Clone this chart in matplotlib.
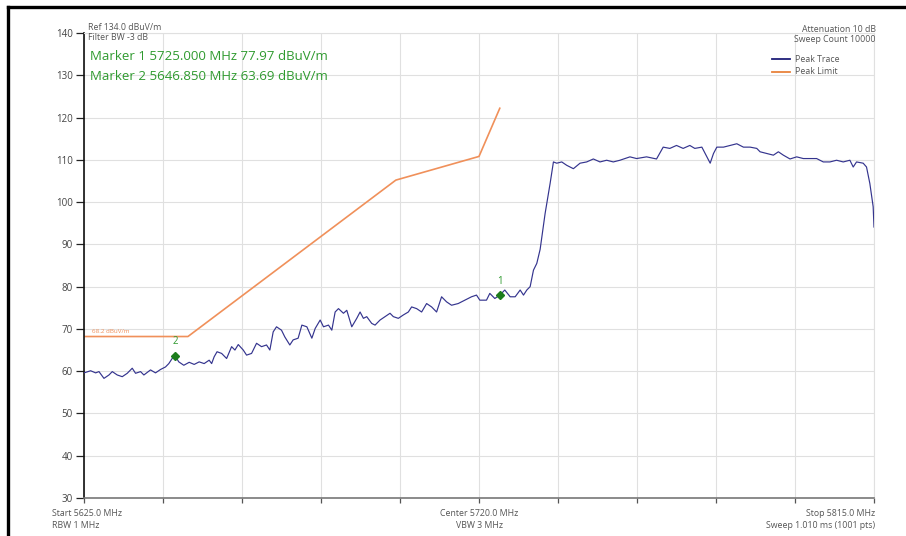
import matplotlib
matplotlib.use("Agg")
import matplotlib.pyplot as plt
from matplotlib.lines import Line2D

plt.rcParams['font.family'] = ['Open Sans', 'DejaVu Sans']

# ---- data ----
freq_mhz = [5625.0, 5626.6, 5627.8, 5628.6, 5629.8, 5631.0, 5631.8, 5633.0, 5634.2, 5635.4,
            5636.6, 5637.4, 5638.6, 5639.4, 5641.0, 5642.2, 5643.4, 5644.6, 5645.4, 5646.2,
            5646.85, 5647.8, 5649.0, 5650.3, 5651.5, 5652.7, 5653.9, 5655.1, 5655.7, 5656.3,
            5657.0, 5658.1, 5659.3, 5660.5, 5661.3, 5662.1, 5663.3, 5664.1, 5665.3, 5666.5,
            5667.7, 5668.9, 5669.7, 5670.5, 5671.3, 5672.5, 5673.3, 5674.5, 5675.3, 5676.5,
            5677.4, 5678.6, 5679.8, 5680.6, 5681.8, 5682.6, 5683.8, 5684.6, 5685.4, 5686.2,
            5687.4, 5688.2, 5689.4, 5690.6, 5691.4, 5692.2, 5693.0, 5694.2, 5695.0, 5696.2,
            5697.4, 5698.6, 5699.4, 5700.6, 5701.8, 5703.0, 5703.8, 5705.0, 5706.2, 5707.4,
            5708.6, 5709.8, 5711.0, 5712.2, 5713.4, 5715.0, 5716.6, 5718.2, 5719.4, 5720.2,
            5721.8, 5722.6, 5723.8, 5725.0, 5726.2, 5727.5, 5728.7, 5729.9, 5730.7, 5731.5,
            5732.3, 5733.1, 5733.9, 5734.7, 5735.9, 5737.1, 5737.9, 5738.7, 5739.9, 5741.1,
            5742.7, 5744.3, 5745.9, 5747.5, 5749.1, 5750.7, 5752.3, 5753.9, 5756.3, 5757.9,
            5760.3, 5762.7, 5764.3, 5765.9, 5767.5, 5769.1, 5770.7, 5771.9, 5773.6, 5774.8,
            5775.6, 5776.4, 5777.2, 5778.8, 5780.4, 5782.0, 5783.6, 5785.2, 5786.8, 5787.6,
            5789.2, 5790.8, 5792.0, 5793.2, 5794.8, 5796.4, 5798.0, 5799.6, 5801.2, 5802.8,
            5804.4, 5806.0, 5807.6, 5809.2, 5810.0, 5810.8, 5812.4, 5813.2, 5814.0, 5814.8,
            5815.0]
level_dbuv = [59.6, 60.1, 59.6, 59.9, 58.3, 59.1, 59.9, 59.1, 58.7, 59.5,
              60.7, 59.5, 59.9, 59.1, 60.3, 59.6, 60.4, 61.0, 61.8, 63.0,
              63.69, 62.2, 61.4, 62.1, 61.6, 62.2, 61.8, 62.6, 61.8, 63.4,
              64.6, 64.2, 63.0, 65.8, 65.0, 66.3, 65.0, 63.8, 64.2, 66.6,
              65.8, 66.2, 65.0, 69.3, 70.5, 69.7, 68.1, 66.2, 67.4, 67.8,
              70.9, 70.5, 67.8, 70.1, 72.1, 70.5, 70.9, 69.7, 74.0, 74.8,
              73.7, 74.4, 70.5, 72.5, 74.0, 72.5, 72.9, 71.3, 70.9, 72.1,
              72.9, 73.7, 72.9, 72.5, 73.3, 74.0, 75.2, 74.8, 74.0, 76.0,
              75.2, 74.0, 77.6, 76.4, 75.6, 76.0, 76.8, 77.6, 78.0, 76.8,
              76.8, 78.4, 77.2, 77.97, 79.2, 77.6, 77.6, 79.2, 78.0, 79.2,
              80.0, 83.9, 85.5, 88.8, 97.3, 104.4, 109.5, 109.2, 109.5, 108.7,
              107.9, 109.2, 109.5, 110.2, 109.5, 109.9, 109.5, 109.9, 110.7, 110.3,
              110.7, 110.2, 113.0, 112.7, 113.4, 112.7, 113.4, 112.7, 113.0, 110.7,
              109.2, 111.5, 113.0, 113.0, 113.4, 113.8, 113.0, 113.0, 112.7, 111.9,
              111.5, 111.1, 111.9, 111.1, 110.2, 110.7, 110.3, 110.3, 110.3, 109.5,
              109.5, 109.9, 109.5, 109.9, 108.3, 109.5, 109.2, 108.3, 104.4, 98.9,
              94.1]

limit_freq = [5625.0, 5650.0, 5700.0, 5720.0, 5725.0]
limit_level = [68.2, 68.2, 105.2, 110.8, 122.2]

marker_ids = ["1", "2"]
marker_freq = [5725.000, 5646.850]
marker_level = [77.97, 63.69]

y_ticks = [30, 40, 50, 60, 70, 80, 90, 100, 110, 120, 130, 140]
start_mhz, stop_mhz, center_mhz = 5625.0, 5815.0, 5720.0

# ---- figure ----
W, H = 906, 536
fig = plt.figure(figsize=(W / 100, H / 100), dpi=100)
L, R, T, B = 84, 874, 33, 498
ax = fig.add_axes([L / W, 1 - B / H, (R - L) / W, (B - T) / H])
ax.set_xlim(start_mhz, stop_mhz)
ax.set_ylim(30, 140)

grid_c = '#e0e0e0'
span = stop_mhz - start_mhz
xt = [start_mhz + span * i / 10 for i in range(11)]
ax.set_xticks(xt)
ax.set_xticklabels([])
ax.set_yticks(y_ticks)
ax.set_yticklabels([str(v) for v in y_ticks])
ax.grid(True, color=grid_c, linewidth=0.8)
ax.set_axisbelow(True)
ax.tick_params(axis='y', length=6, width=0.9, color='#222222', labelsize=7,
               labelcolor='#444444', pad=2)
ax.tick_params(axis='x', length=3.5, width=0.9, color='#555555', direction='out')
for s in ['top', 'right']:
    ax.spines[s].set_color(grid_c)
    ax.spines[s].set_linewidth(0.8)
ax.spines['left'].set_color('#111111')
ax.spines['left'].set_linewidth(1.2)
ax.spines['bottom'].set_color('#777777')
ax.spines['bottom'].set_linewidth(1.2)

trace_c = '#34348e'
limit_c = '#f0905a'
ax.plot(freq_mhz, level_dbuv, color=trace_c, linewidth=0.85, zorder=3)
ax.plot(limit_freq, limit_level, color=limit_c, linewidth=1.2, zorder=2)

# markers
green = '#2f9a2f'
ax.plot(marker_freq, marker_level, linestyle='none', marker='D', markersize=4,
        color='#1d7d1d', zorder=4)
for mid, mf, ml in zip(marker_ids, marker_freq, marker_level):
    ax.annotate(mid, (mf, ml), xytext=(0, 6), textcoords='offset points',
                ha='center', va='bottom', fontsize=7, color=green)

ax.text(start_mhz + 2, limit_level[0] + 0.6, f"{limit_level[0]} dBuV/m",
        fontsize=4.5, color=limit_c, ha='left', va='bottom')

# header texts (figure pixel coordinates)
def ftext(x, y, s, **kw):
    fig.text(x / W, 1 - y / H, s, **kw)

gray = '#555555'
fs = 6.3
ftext(88, 28, "Ref 134.0 dBuV/m", fontsize=fs, color=gray, ha='left', va='center')
ftext(88, 38, "Filter BW -3 dB", fontsize=fs, color=gray, ha='left', va='center')
ftext(90, 57, "Marker 1 5725.000 MHz 77.97 dBuV/m", fontsize=9.5, color=green,
      ha='left', va='center')
ftext(90, 76, "Marker 2 5646.850 MHz 63.69 dBuV/m", fontsize=9.5, color=green,
      ha='left', va='center')
ftext(876, 29, "Attenuation 10 dB", fontsize=fs, color=gray, ha='right', va='center')
ftext(876, 40, "Sweep Count 10000", fontsize=fs, color=gray, ha='right', va='center')

# legend
leg_items = [("Peak Trace", '#1f1f78'), ("Peak Limit", '#e8823c')]
for i, (lab, c) in enumerate(leg_items):
    yy = 59 + i * 13
    fig.add_artist(Line2D([772 / W, 790 / W], [1 - yy / H, 1 - yy / H], color=c,
                          linewidth=1.3, transform=fig.transFigure))
    ftext(795, yy, lab, fontsize=fs, color=gray, ha='left', va='center')

# footer texts
ftext(52, 514, f"Start {start_mhz:.1f} MHz", fontsize=fs, color=gray, ha='left', va='center')
ftext(52, 525, "RBW 1 MHz", fontsize=fs, color=gray, ha='left', va='center')
ftext(479, 514, f"Center {center_mhz:.1f} MHz", fontsize=fs, color=gray, ha='center', va='center')
ftext(479, 525, "VBW 3 MHz", fontsize=fs, color=gray, ha='center', va='center')
ftext(875, 514, f"Stop {stop_mhz:.1f} MHz", fontsize=fs, color=gray, ha='right', va='center')
ftext(875, 525, "Sweep 1.010 ms (1001 pts)", fontsize=fs, color=gray, ha='right', va='center')

# black frame (top and left edge of screenshot)
fig.add_artist(Line2D([7.5 / W, 1.0], [1 - 7 / H, 1 - 7 / H], color='black',
                      linewidth=2.4, transform=fig.transFigure))
fig.add_artist(Line2D([7.5 / W, 7.5 / W], [0, 1 - 7 / H], color='black',
                      linewidth=2.4, transform=fig.transFigure))

fig.savefig("out.png", dpi=100, facecolor='white')
